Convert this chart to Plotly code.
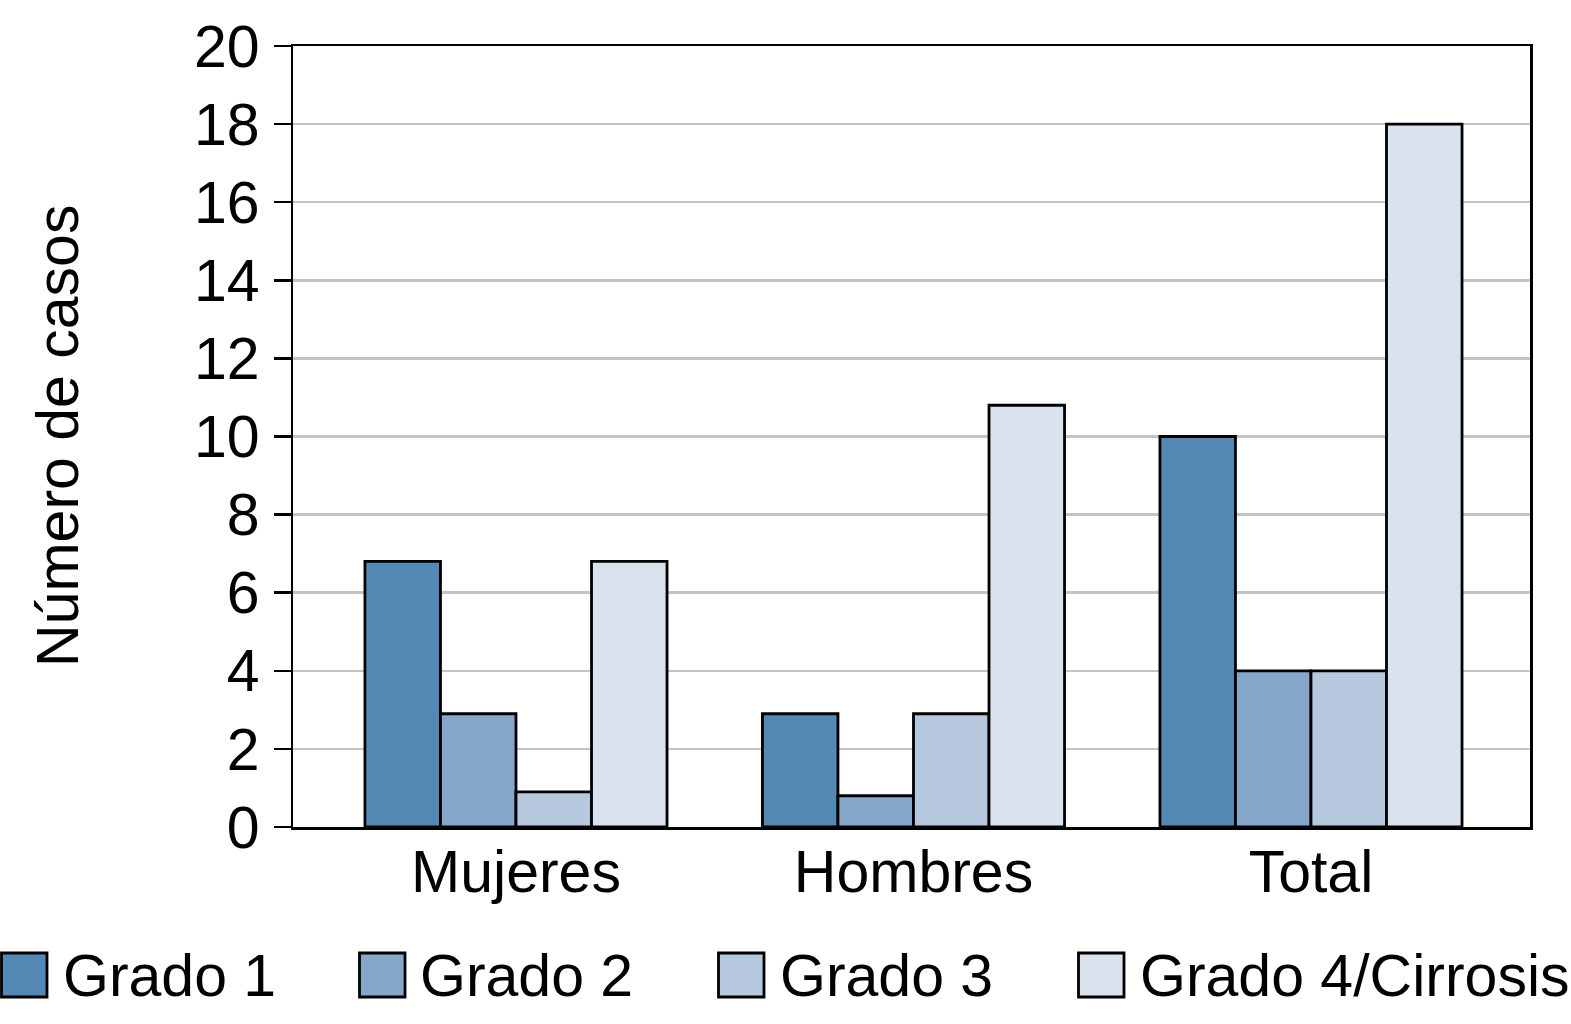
import plotly.graph_objects as go

categories = ["Mujeres", "Hombres", "Total"]
series_names = ["Grado 1", "Grado 2", "Grado 3", "Grado 4/Cirrosis"]
grado1 = [6.8, 2.9, 10.0]
grado2 = [2.9, 0.8, 4.0]
grado3 = [0.9, 2.9, 4.0]
grado4 = [6.8, 10.8, 18.0]
colors = ["#5589b5", "#87a7ca", "#b5c8de", "#dae2ed"]
y_ticks = list(range(0, 21, 2))

W, H = 1571, 1024
L, R, T, B = 293, 41, 46, 197
PW, PH = W - L - R, H - T - B
FONT = "Liberation Sans, Arial, sans-serif"
FS = 59

def px(x):
    return (x - L) / PW

def py(y):
    return (H - B - y) / PH

fig = go.Figure()
for name, vals, c in zip(series_names, [grado1, grado2, grado3, grado4], colors):
    fig.add_trace(go.Bar(
        x=categories, y=vals, name=name,
        marker=dict(color=c, line=dict(color="black", width=2.8)),
        showlegend=False, hoverinfo="skip",
    ))

# manual legend
leg_sq_x = [0, 358, 717, 1077]
leg_txt_x = [61, 418, 778, 1138]
shapes = []
annotations = []
for i, name in enumerate(series_names):
    shapes.append(dict(type="rect", xref="paper", yref="paper",
                       x0=px(leg_sq_x[i] + 1.5), x1=px(leg_sq_x[i] + 47),
                       y0=py(997), y1=py(953),
                       fillcolor=colors[i], line=dict(color="black", width=2.8)))
    annotations.append(dict(xref="paper", yref="paper", x=px(leg_txt_x[i]), y=py(976),
                            xanchor="left", yanchor="middle", showarrow=False,
                            text=name, font=dict(family=FONT, size=FS, color="black")))

annotations.append(dict(xref="paper", yref="paper", x=px(58), y=py(436),
                        xanchor="center", yanchor="middle", showarrow=False,
                        textangle=-90, text="Número de casos",
                        font=dict(family=FONT, size=FS, color="black")))

fig.update_layout(
    width=W, height=H,
    margin=dict(l=L, r=R, t=T, b=B),
    paper_bgcolor="white", plot_bgcolor="white",
    barmode="group", bargap=0.24, bargroupgap=0,
    hovermode=False,
    font=dict(family=FONT, size=FS, color="black"),
    shapes=shapes, annotations=annotations,
    xaxis=dict(range=[-0.561, 2.551], showline=True, linecolor="black", linewidth=2.5,
               mirror=True, ticks="", showgrid=False, ticklabelstandoff=-8,
               tickfont=dict(family=FONT, size=FS, color="black")),
    yaxis=dict(range=[0, 20], tickvals=y_ticks, showline=True, linecolor="black", linewidth=2.5,
               mirror=True, ticks="outside", ticklen=17, tickwidth=2.5, tickcolor="black",
               showgrid=True, gridcolor="#c4c4c4", gridwidth=2.5, zeroline=False,
               ticklabelstandoff=2,
               tickfont=dict(family=FONT, size=FS, color="black")),
)

fig.write_html("out.html", config={"displayModeBar": False, "staticPlot": True},
               post_script="document.body.style.margin='0';document.body.style.overflow='hidden';")
